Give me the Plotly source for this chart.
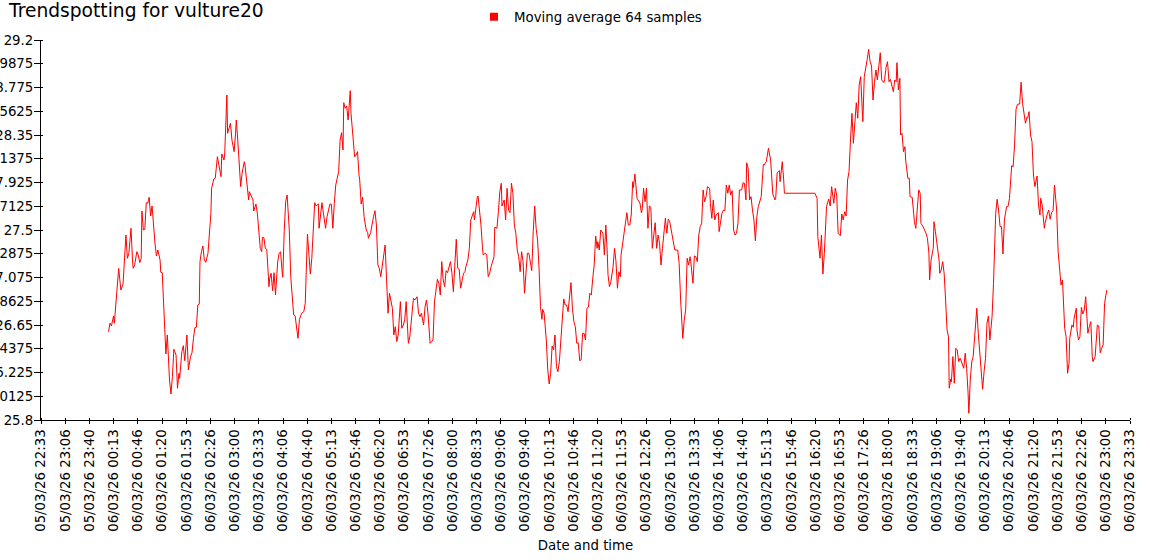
import datetime as dt
import plotly.graph_objects as go

TITLE = "Trendspotting for vulture20"
SERIES_NAME = "Moving average 64 samples"
X_TITLE = "Date and time"

# Sample times: minutes after 06/03/26 00:00
minutes = [
    6, 8, 10, 13, 14, 17, 20, 23, 25, 26,
    30, 32, 34, 37, 39, 40, 42, 45, 47, 49,
    51, 52, 54, 56, 58, 60, 62, 64, 66, 68,
    70, 72, 74, 77, 78, 80, 82, 85, 87, 88,
    90, 92, 94, 96, 99, 101, 103, 104, 107, 109,
    111, 114, 116, 119, 121, 123, 125, 127, 129, 131,
    132, 134, 136, 138, 140, 143, 145, 147, 148, 151,
    153, 155, 156, 158, 161, 162, 165, 166, 169, 170,
    172, 174, 176, 179, 181, 182, 184, 186, 188, 190,
    193, 194, 197, 199, 200, 203, 205, 206, 209, 211,
    213, 215, 217, 218, 220, 222, 224, 227, 228, 230,
    232, 234, 236, 239, 241, 243, 245, 246, 248, 250,
    252, 255, 257, 259, 261, 263, 267, 269, 272, 275,
    277, 280, 282, 284, 286, 288, 290, 292, 295, 296,
    298, 300, 302, 305, 307, 309, 311, 313, 315, 317,
    319, 321, 323, 325, 327, 329, 330, 332, 334, 336,
    339, 340, 343, 345, 347, 349, 351, 352, 354, 356,
    358, 361, 363, 364, 367, 369, 371, 373, 375, 377,
    379, 381, 383, 386, 387, 389, 391, 393, 395, 397,
    399, 401, 403, 405, 408, 410, 412, 414, 416, 419,
    421, 424, 426, 428, 431, 433, 435, 437, 440, 442,
    444, 446, 449, 451, 453, 455, 458, 459, 461, 463,
    465, 467, 469, 471, 473, 475, 477, 479, 481, 483,
    485, 487, 489, 491, 493, 495, 497, 498, 501, 503,
    505, 507, 509, 510, 512, 514, 515, 517, 519, 521,
    522, 525, 527, 529, 531, 533, 535, 537, 538, 541,
    543, 545, 547, 548, 551, 553, 555, 557, 559, 561,
    563, 565, 567, 569, 571, 573, 575, 577, 579, 581,
    583, 585, 587, 589, 591, 593, 595, 597, 599, 601,
    603, 604, 606, 609, 611, 613, 615, 617, 619, 621,
    623, 625, 627, 629, 631, 633, 635, 637, 639, 641,
    643, 645, 647, 649, 651, 653, 655, 657, 659, 661,
    663, 665, 667, 669, 671, 673, 675, 677, 679, 680,
    682, 684, 687, 689, 691, 693, 694, 696, 698, 701,
    703, 705, 707, 709, 711, 712, 714, 716, 718, 720,
    722, 724, 726, 728, 729, 731, 734, 736, 738, 740,
    741, 743, 745, 747, 749, 751, 753, 755, 757, 759,
    761, 763, 765, 767, 769, 771, 773, 775, 777, 779,
    781, 784, 786, 790, 792, 794, 796, 797, 799, 801,
    803, 805, 807, 808, 811, 813, 815, 817, 819, 821,
    823, 825, 827, 829, 831, 834, 835, 837, 839, 841,
    843, 846, 847, 849, 851, 853, 855, 857, 859, 861,
    863, 865, 867, 869, 871, 873, 875, 878, 880, 882,
    884, 885, 887, 889, 891, 893, 895, 897, 899, 901,
    903, 905, 908, 909, 912, 913, 915, 918, 920, 921,
    924, 925, 927, 930, 931, 934, 936, 937, 979, 982,
    983, 986, 988, 990, 992, 993, 995, 998, 1000, 1002,
    1004, 1005, 1007, 1009, 1011, 1014, 1016, 1018, 1020, 1022,
    1024, 1026, 1028, 1030, 1032, 1034, 1036, 1038, 1040, 1042,
    1044, 1045, 1047, 1050, 1051, 1053, 1055, 1057, 1059, 1061,
    1063, 1065, 1067, 1069, 1071, 1074, 1075, 1077, 1079, 1081,
    1083, 1085, 1087, 1089, 1091, 1092, 1094, 1096, 1097, 1099,
    1101, 1103, 1104, 1107, 1109, 1110, 1113, 1115, 1116, 1118,
    1120, 1122, 1124, 1125, 1128, 1130, 1132, 1134, 1136, 1137,
    1139, 1142, 1143, 1145, 1148, 1150, 1151, 1153, 1155, 1157,
    1159, 1161, 1163, 1164, 1166, 1167, 1169, 1171, 1173, 1175,
    1177, 1179, 1180, 1182, 1184, 1186, 1188, 1190, 1191, 1193,
    1195, 1197, 1200, 1202, 1204, 1207, 1209, 1210, 1212, 1214,
    1216, 1218, 1220, 1223, 1225, 1226, 1228, 1230, 1232, 1234,
    1236, 1238, 1240, 1243, 1245, 1247, 1249, 1250, 1252, 1254,
    1256, 1258, 1261, 1263, 1265, 1267, 1269, 1271, 1272, 1274,
    1276, 1278, 1280, 1282, 1285, 1287, 1289, 1290, 1292, 1295,
    1296, 1299, 1301, 1303, 1305, 1307, 1309, 1311, 1312, 1314,
    1316, 1318, 1320, 1321, 1323, 1325, 1327, 1329, 1330, 1333,
    1335, 1336, 1339, 1340, 1342, 1344, 1346, 1348, 1350, 1352,
    1355, 1357, 1359, 1361, 1362, 1365, 1367, 1368, 1370, 1372,
    1374, 1376, 1378, 1380, 1381,
]

moving_average = [
    26.590, 26.666, 26.642, 26.731, 26.666, 26.934, 27.157, 26.963, 27.017, 27.017,
    27.455, 27.247, 27.291, 27.515, 27.232, 27.157, 27.187, 27.306, 27.276, 27.208,
    27.247, 27.670, 27.500, 27.506, 27.744, 27.739, 27.793, 27.625, 27.715, 27.530,
    27.381, 27.268, 27.321, 27.232, 27.122, 27.118, 26.755, 26.391, 26.561, 26.426,
    26.158, 26.033, 26.188, 26.433, 26.382, 26.084, 26.218, 26.173, 26.411, 26.465,
    26.331, 26.561, 26.248, 26.367, 26.402, 26.531, 26.626, 26.630, 26.829, 26.838,
    27.217, 27.306, 27.357, 27.232, 27.211, 27.292, 27.440, 27.650, 27.873, 27.956,
    27.963, 28.097, 28.156, 28.082, 27.977, 28.180, 28.126, 28.171, 28.708, 28.365,
    28.419, 28.455, 28.305, 28.201, 28.365, 28.484, 28.305, 28.037, 27.888, 28.007,
    28.111, 28.082, 27.888, 27.769, 27.843, 27.793, 27.769, 27.670, 27.733, 27.650,
    27.500, 27.336, 27.306, 27.435, 27.431, 27.336, 27.327, 26.993, 27.068, 27.113,
    26.957, 27.118, 26.919, 27.217, 27.292, 27.306, 27.136, 27.077, 27.485, 27.753,
    27.813, 27.500, 27.082, 26.874, 26.740, 26.733, 26.531, 26.701, 26.755, 26.769,
    26.844, 27.464, 27.261, 27.106, 27.247, 27.455, 27.744, 27.715, 27.733, 27.515,
    27.634, 27.744, 27.650, 27.515, 27.619, 27.694, 27.733, 27.730, 27.515, 27.739,
    27.903, 27.963, 28.022, 28.305, 28.371, 28.216, 28.639, 28.589, 28.610, 28.484,
    28.747, 28.544, 28.305, 28.156, 28.171, 28.201, 27.992, 27.948, 27.733, 27.793,
    27.619, 27.500, 27.476, 27.426, 27.476, 27.560, 27.619, 27.673, 27.545, 27.187,
    27.157, 27.082, 27.187, 27.360, 27.366, 27.053, 26.755, 26.934, 26.859, 26.800,
    26.561, 26.635, 26.501, 26.561, 26.859, 26.621, 26.650, 26.695, 26.859, 26.486,
    26.545, 26.755, 26.889, 26.874, 26.903, 26.755, 26.725, 26.755, 26.650, 26.814,
    26.874, 26.755, 26.486, 26.501, 26.516, 26.859, 26.979, 27.059, 27.023, 26.919,
    27.217, 27.053, 26.993, 27.136, 27.118, 27.157, 27.217, 27.113, 26.948, 27.187,
    27.417, 27.157, 27.149, 26.979, 27.053, 27.113, 27.127, 27.166, 27.232, 27.336,
    27.590, 27.625, 27.664, 27.590, 27.724, 27.798, 27.804, 27.679, 27.545, 27.351,
    27.277, 27.292, 27.277, 27.082, 27.113, 27.172, 27.232, 27.261, 27.524, 27.515,
    27.664, 27.843, 27.918, 27.715, 27.769, 27.590, 27.873, 27.679, 27.655, 27.918,
    27.829, 27.545, 27.471, 27.321, 27.261, 27.127, 27.306, 27.217, 26.934, 27.082,
    27.292, 27.292, 27.202, 27.136, 27.485, 27.715, 27.515, 27.411, 27.157, 26.814,
    26.701, 26.791, 26.755, 26.516, 26.248, 26.122, 26.218, 26.462, 26.426, 26.561,
    26.277, 26.232, 26.322, 26.531, 26.769, 26.883, 26.829, 26.829, 26.769, 26.903,
    27.029, 26.800, 26.680, 26.635, 26.486, 26.492, 26.331, 26.337, 26.576, 26.576,
    26.516, 26.800, 26.809, 26.934, 26.919, 27.068, 27.187, 27.446, 27.336, 27.395,
    27.321, 27.500, 27.471, 27.277, 27.545, 27.292, 27.098, 26.993, 27.038, 27.172,
    27.336, 27.217, 26.979, 27.127, 27.082, 27.277, 27.366, 27.440, 27.554, 27.655,
    27.545, 27.545, 27.634, 27.932, 27.879, 28.001, 27.784, 27.754, 27.739, 27.655,
    27.679, 27.873, 27.753, 27.873, 27.515, 27.715, 27.703, 27.336, 27.455, 27.565,
    27.336, 27.455, 27.381, 27.187, 27.336, 27.462, 27.605, 27.471, 27.596, 27.574,
    27.500, 27.366, 27.321, 27.321, 27.202, 26.874, 26.666, 26.531, 26.695, 26.784,
    27.247, 27.187, 27.261, 27.217, 27.023, 27.268, 27.261, 27.217, 27.455, 27.530,
    27.560, 27.858, 27.753, 27.798, 27.888, 27.873, 27.739, 27.605, 27.769, 27.590,
    27.634, 27.655, 27.485, 27.574, 27.650, 27.679, 27.673, 27.903, 27.829, 27.903,
    27.813, 27.852, 27.500, 27.455, 27.471, 27.560, 27.858, 27.858, 27.923, 27.918,
    27.769, 28.102, 28.052, 27.769, 27.798, 27.679, 27.590, 27.404, 27.619, 27.709,
    27.753, 27.798, 28.088, 28.082, 28.111, 28.171, 28.231, 28.126, 27.834, 27.822,
    27.769, 27.784, 28.013, 28.031, 27.932, 28.111, 27.948, 27.829, 27.829, 27.784,
    27.440, 27.247, 27.455, 27.106, 27.292, 27.500, 27.709, 27.778, 27.715, 27.888,
    27.753, 27.739, 27.873, 27.813, 27.471, 27.449, 27.643, 27.590, 27.664, 27.625,
    27.948, 28.022, 28.305, 28.544, 28.276, 28.469, 28.639, 28.500, 28.798, 28.872,
    28.634, 28.469, 28.872, 29.027, 29.027, 29.117, 29.006, 28.967, 28.663, 28.818,
    28.932, 28.842, 28.992, 29.086, 28.842, 28.818, 28.848, 28.956, 29.006, 28.827,
    28.848, 28.798, 28.738, 28.842, 28.827, 28.997, 28.753, 28.857, 28.350, 28.365,
    28.201, 28.246, 28.126, 27.963, 27.963, 27.798, 27.793, 27.650, 27.575, 27.515,
    27.709, 27.858, 27.829, 27.560, 27.530, 27.506, 27.471, 27.426, 27.292, 27.053,
    27.232, 27.336, 27.574, 27.485, 27.336, 27.232, 27.113, 27.142, 27.217, 27.113,
    26.874, 26.605, 26.545, 26.084, 26.164, 26.143, 26.367, 26.129, 26.442, 26.426,
    26.322, 26.352, 26.337, 26.292, 26.263, 26.397, 26.263, 26.039, 25.860, 26.158,
    26.319, 26.367, 26.665, 26.800, 26.576, 26.308, 26.129, 26.075, 26.232, 26.352,
    26.665, 26.731, 26.516, 26.725, 27.023, 27.321, 27.650, 27.775, 27.679, 27.530,
    27.530, 27.285, 27.590, 27.709, 27.709, 27.784, 27.963, 28.075, 28.067, 28.261,
    28.580, 28.625, 28.627, 28.822, 28.634, 28.544, 28.455, 28.508, 28.500, 28.559,
    28.350, 28.290, 27.992, 27.888, 27.983, 27.724, 27.634, 27.784, 27.724, 27.515,
    27.560, 27.643, 27.679, 27.596, 27.655, 27.673, 27.903, 27.753, 27.679, 27.306,
    27.142, 27.008, 27.053, 26.844, 26.621, 26.545, 26.218, 26.308, 26.531, 26.650,
    26.630, 26.710, 26.800, 26.605, 26.516, 26.545, 26.808, 26.749, 26.784, 26.903,
    26.576, 26.635, 26.680, 26.367, 26.322, 26.367, 26.576, 26.650, 26.641, 26.402,
    26.442, 26.471, 26.844, 26.939, 26.963,
]

y_tick_values = [25.8, 26.0125, 26.225, 26.4375, 26.65, 26.8625, 27.075, 27.2875, 27.5,
                 27.7125, 27.925, 28.1375, 28.35, 28.5625, 28.775, 28.9875, 29.2]
y_tick_labels = ["25.8", "26.0125", "26.225", "26.4375", "26.65", "26.8625", "27.075",
                 "27.2875", "27.5", "27.7125", "27.925", "28.1375", "28.35", "28.5625",
                 "28.775", "28.9875", "29.2"]

x_tick_labels = [
    "05/03/26 22:33", "05/03/26 23:06", "05/03/26 23:40", "06/03/26 00:13",
    "06/03/26 00:46", "06/03/26 01:20", "06/03/26 01:53", "06/03/26 02:26",
    "06/03/26 03:00", "06/03/26 03:33", "06/03/26 04:06", "06/03/26 04:40",
    "06/03/26 05:13", "06/03/26 05:46", "06/03/26 06:20", "06/03/26 06:53",
    "06/03/26 07:26", "06/03/26 08:00", "06/03/26 08:33", "06/03/26 09:06",
    "06/03/26 09:40", "06/03/26 10:13", "06/03/26 10:46", "06/03/26 11:20",
    "06/03/26 11:53", "06/03/26 12:26", "06/03/26 13:00", "06/03/26 13:33",
    "06/03/26 14:06", "06/03/26 14:40", "06/03/26 15:13", "06/03/26 15:46",
    "06/03/26 16:20", "06/03/26 16:53", "06/03/26 17:26", "06/03/26 18:00",
    "06/03/26 18:33", "06/03/26 19:06", "06/03/26 19:40", "06/03/26 20:13",
    "06/03/26 20:46", "06/03/26 21:20", "06/03/26 21:53", "06/03/26 22:26",
    "06/03/26 23:00", "06/03/26 23:33",
]

assert len(minutes) == len(moving_average)

day_start = dt.datetime(2026, 3, 6, 0, 0)
axis_start = dt.datetime(2026, 3, 5, 22, 33)
tick_step = dt.timedelta(seconds=2000)

x_times = [day_start + dt.timedelta(minutes=m) for m in minutes]
x_tick_values = [axis_start + i * tick_step for i in range(len(x_tick_labels))]
x_range = [x_tick_values[0], x_tick_values[-1]]
# tiny offsets so the inner tick stubs are not merged with the major ticks
x_inner_ticks = [v + dt.timedelta(seconds=1) for v in x_tick_values]
y_inner_ticks = [v + 1e-6 for v in y_tick_values]

FONT = "DejaVu Sans"
FS = 13.33
RED = "rgb(255,0,0)"

fig = go.Figure()
fig.add_trace(go.Scatter(
    x=x_times, y=moving_average, mode="lines",
    line=dict(color=RED, width=1), name=SERIES_NAME, showlegend=False,
))
fig.add_trace(go.Scatter(
    x=[None], y=[None], mode="markers",
    marker=dict(symbol="square", size=8, color=RED),
    name=SERIES_NAME, showlegend=True,
))

fig.update_layout(
    template="none",
    width=1150, height=560,
    margin=dict(l=41, r=20, t=40, b=140, autoexpand=False),
    paper_bgcolor="white", plot_bgcolor="white",
    font=dict(family=FONT, size=FS, color="black"),
    title=dict(text=TITLE, font=dict(family=FONT, size=18.67, color="black"),
               xref="container", x=9 / 1150, xanchor="left",
               yref="container", y=1 - 10 / 560, yanchor="middle"),
    legend=dict(orientation="h", xref="container", yref="container",
                x=474 / 1150, xanchor="left", y=1 - 17 / 560, yanchor="middle",
                font=dict(family=FONT, size=FS, color="black"),
                bgcolor="rgba(0,0,0,0)", borderwidth=0, itemwidth=30),
    xaxis=dict(range=x_range, tickmode="array", tickvals=x_tick_values,
               ticktext=x_tick_labels, tickangle=-90, ticks="outside",
               ticklen=3, tickcolor="black", showline=True, linecolor="black",
               linewidth=1, showgrid=False, zeroline=False, automargin=False,
               minor=dict(tickmode="array", tickvals=x_inner_ticks, ticks="inside",
                          ticklen=2, tickcolor="black", showgrid=False),
               tickfont=dict(family=FONT, size=FS, color="black"),
               title=dict(text=X_TITLE, standoff=9,
                          font=dict(family=FONT, size=FS, color="black"))),
    yaxis=dict(range=[25.8, 29.2], tickmode="array", tickvals=y_tick_values,
               ticktext=y_tick_labels, ticks="outside", ticklen=6,
               ticklabelstandoff=-2,
               tickcolor="black", showline=True, linecolor="black", linewidth=1,
               showgrid=False, zeroline=False, automargin=False,
               minor=dict(tickmode="array", tickvals=y_inner_ticks, ticks="inside",
                          ticklen=2, tickcolor="black", showgrid=False),
               tickfont=dict(family=FONT, size=FS, color="black")),
)

fig.write_html("out.html", config={"displayModeBar": False},
               post_script="document.body.style.margin='0';")
